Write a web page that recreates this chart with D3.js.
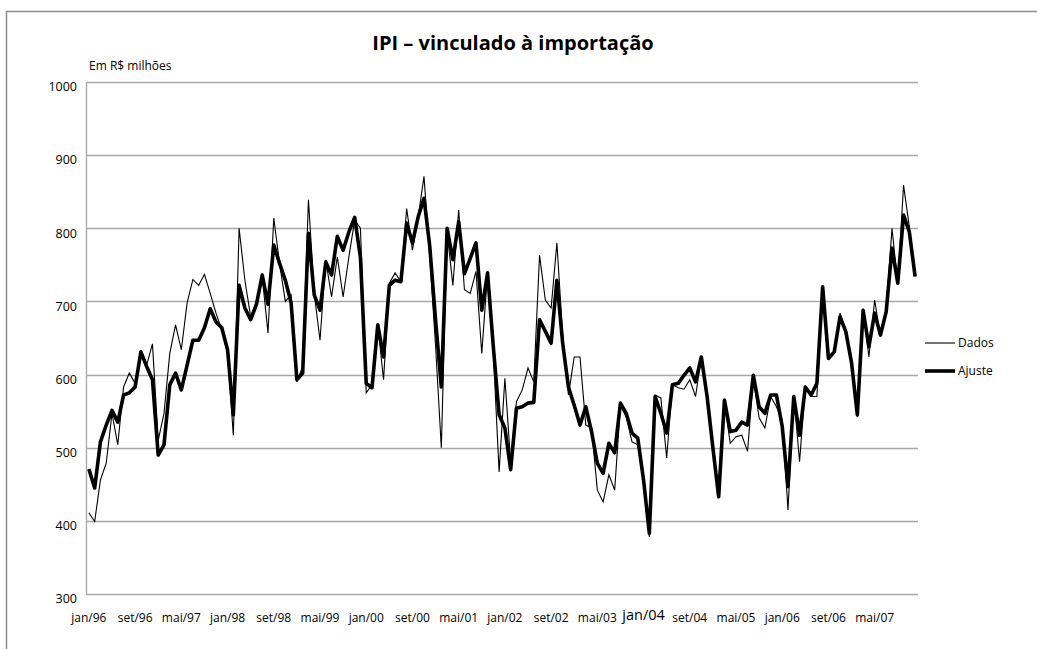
<!DOCTYPE html>
<html>
<head>
<meta charset="utf-8">
<script src="https://cdn.jsdelivr.net/npm/d3@7"></script>
<style>
  body { margin: 0; background: #fff; }
  text { font-family: "Open Sans", "DejaVu Sans", sans-serif; fill: #000; }
</style>
</head>
<body>
<div id="wrapper"></div>
<script>
// monthly series, jan/96 .. dez/07
const monthNames = ["jan","fev","mar","abr","mai","jun","jul","ago","set","out","nov","dez"];
const months = [];
for (let y = 1996; y <= 2007; y++) {
  for (let m = 0; m < 12; m++) months.push(monthNames[m] + "/" + String(y).slice(2));
}

const dados = [
  411,399,456,479,547,504,583,602,588,629,613,642,
  510,547,629,668,634,698,730,722,737,711,684,661,
  629,517,800,729,679,700,734,657,814,752,700,709,
  590,611,839,711,647,757,706,761,706,761,811,800,
  575,586,668,593,725,739,727,827,770,816,871,760,
  640,500,795,722,825,716,711,741,629,739,630,467,
  595,480,563,579,609,590,763,702,691,780,654,572,
  624,624,531,527,442,426,463,442,558,542,508,504,
  452,378,572,568,486,586,582,580,593,570,624,570,
  498,435,563,506,515,517,495,595,541,527,570,556,
  538,415,572,481,583,570,570,718,624,629,684,661,
  612,542,690,624,702,652,690,800,723,859,802,734
];

const ajuste = [
  471,445,508,531,551,535,572,575,583,631,611,593,
  490,504,586,602,579,613,647,647,664,690,672,664,
  634,545,722,691,675,696,736,696,777,752,729,698,
  593,602,793,709,688,754,736,789,770,795,815,760,
  588,582,668,624,722,729,727,807,780,816,841,775,
  675,583,800,757,809,738,759,780,688,739,638,545,
  527,470,554,556,561,562,675,659,643,729,643,583,
  558,531,556,522,479,465,506,493,561,547,520,513,
  456,383,570,547,520,586,588,599,609,590,624,570,
  500,433,565,522,524,535,531,599,556,547,572,572,
  529,447,570,517,583,572,588,720,622,631,679,659,
  616,545,688,638,684,654,686,773,725,818,795,734
];

const yTicks = [300, 400, 500, 600, 700, 800, 900, 1000];
const xLabels = months.filter((d, i) => i % 8 === 0);

const dimensions = {
  width: 1037,
  height: 649,
  margins: { top: 82, right: 119, bottom: 55, left: 86 }
};
dimensions.boundedWidth = dimensions.width - dimensions.margins.left - dimensions.margins.right;
dimensions.boundedHeight = dimensions.height - dimensions.margins.top - dimensions.margins.bottom;

const wrapper = d3.select("#wrapper")
  .append("svg")
    .attr("width", dimensions.width)
    .attr("height", dimensions.height);

// outer frame (left and top edges only are visible)
wrapper.append("path")
  .attr("d", `M6.5,${dimensions.height} V11.5 H${dimensions.width}`)
  .attr("fill", "none")
  .attr("stroke", "#8c8c8c")
  .attr("stroke-width", 1.5);

const bounds = wrapper.append("g")
  .attr("transform", `translate(${dimensions.margins.left}, ${dimensions.margins.top})`);

// scales
const xScale = d3.scaleBand()
  .domain(months)
  .range([0, dimensions.boundedWidth]);
const xPos = d => xScale(d) + xScale.bandwidth() / 2;

const yScale = d3.scaleLinear()
  .domain([300, 1000])
  .range([dimensions.boundedHeight, 0]);

// gridlines
bounds.append("g")
  .selectAll("line")
  .data(yTicks)
  .join("line")
    .attr("x1", 0)
    .attr("x2", dimensions.boundedWidth)
    .attr("y1", d => Math.round(yScale(d)) + 0.5)
    .attr("y2", d => Math.round(yScale(d)) + 0.5)
    .attr("stroke", "#a6a6a6")
    .attr("stroke-width", 1.3);

// y axis
const yAxis = bounds.append("g")
  .call(d3.axisLeft(yScale).tickValues(yTicks).tickFormat(d3.format("d")).tickSize(0).tickPadding(9));
yAxis.select(".domain").attr("stroke", "#a6a6a6").attr("stroke-width", 1.3);
yAxis.selectAll("text")
  .attr("dy", "0.7em")
  .style("font-size", "12.5px")
  .style("font-family", "'Open Sans', sans-serif");

// x axis labels
const xAxis = bounds.append("g")
  .attr("transform", `translate(0, ${dimensions.boundedHeight})`)
  .call(d3.axisBottom(xScale).tickValues(xLabels).tickSize(0).tickPadding(19));
xAxis.select(".domain").remove();
xAxis.selectAll("text")
  .style("font-size", d => d === "jan/04" ? "14.5px" : "12px")
  .attr("dy", d => d === "jan/04" ? "0.5em" : "0.76em")
  .style("font-family", "'Open Sans', sans-serif");

// lines
const lineGenerator = d3.line()
  .x((d, i) => xPos(months[i]))
  .y(d => yScale(d));

bounds.append("path")
  .datum(ajuste)
  .attr("d", lineGenerator)
  .attr("fill", "none")
  .attr("stroke", "#000")
  .attr("stroke-width", 3.6)
  .attr("stroke-linejoin", "round");

bounds.append("path")
  .datum(dados)
  .attr("d", lineGenerator)
  .attr("fill", "none")
  .attr("stroke", "#000")
  .attr("stroke-width", 1.1)
  .attr("stroke-linejoin", "miter");

// title + unit
wrapper.append("text")
  .attr("x", 513)
  .attr("y", 50)
  .attr("text-anchor", "middle")
  .style("font-size", "20px")
  .style("font-weight", "bold")
  .text("IPI – vinculado à importação");

wrapper.append("text")
  .attr("x", 89)
  .attr("y", 70)
  .style("font-size", "12px")
  .text("Em R$ milhões");

// legend
const legendItems = [
  { name: "Dados", width: 1.1 },
  { name: "Ajuste", width: 3.6 }
];
const legend = wrapper.append("g")
  .attr("transform", "translate(925, 343)");
legendItems.forEach((item, i) => {
  const g = legend.append("g").attr("transform", `translate(0, ${i * 28})`);
  g.append("line")
    .attr("x1", 0).attr("x2", 30)
    .attr("stroke", "#000")
    .attr("stroke-width", item.width);
  g.append("text")
    .attr("x", 33)
    .attr("dy", "0.35em")
    .style("font-size", "12px")
    .text(item.name);
});
</script>
</body>
</html>
